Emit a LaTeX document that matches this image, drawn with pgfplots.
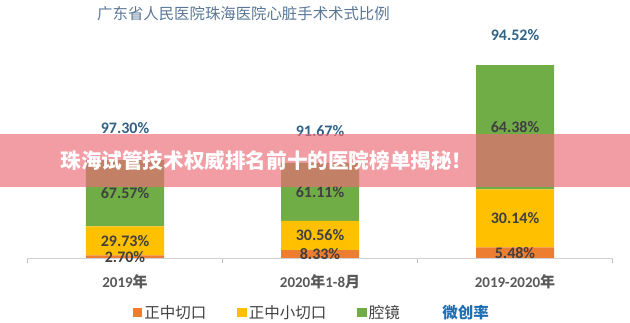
\documentclass[border=0pt]{standalone}
\usepackage{pgfplots}
\pgfplotsset{compat=1.18}
\usepackage{fontspec}
\setmainfont{Carlito}
\newfontfamily\cjk{Noto Sans CJK SC}
\definecolor{cOrange}{HTML}{ED7D31}
\definecolor{cYellow}{HTML}{FFC000}
\definecolor{cGreen}{HTML}{70AD47}
\definecolor{cTitle}{HTML}{5A7896}
\definecolor{cBlue}{HTML}{2F6286}
\definecolor{cLeg}{HTML}{1F6EB3}
\definecolor{cLab}{HTML}{404040}
\definecolor{cCat}{HTML}{595959}
\definecolor{cBanner}{HTML}{EB6B78}
\begin{document}
\begin{tikzpicture}[x=1pt,y=1pt]
\path[use as bounding box] (0,0) rectangle (630,323);
\node[font=\cjk\fontsize{15.4}{17}\selectfont, text=cTitle] at (243.5,309) {广东省人民医院珠海医院心脏手术术式比例};
\begin{axis}[
  at={(27.5pt,65pt)}, anchor=south west, scale only axis,
  width=585pt, height=211.5pt,
  xmin=-0.5, xmax=2.5, ymin=0, ymax=80,
  ybar stacked, bar width=78pt,
  axis y line=none, axis x line*=bottom,
  x axis line style={draw=black!18, line width=0.8pt},
  xtick={0,1,2},
  xticklabels={2019{\cjk 年},2020{\cjk 年}1-8{\cjk 月},2019-2020{\cjk 年}},
  major x tick style={draw=none},
  minor xtick={-0.5,0.5,1.5,2.5},
  minor tick length=5pt, tick align=outside,
  minor x tick style={draw=black!25, line width=0.6pt},
  xticklabel style={anchor=center, yshift=-20pt, font=\bfseries\fontsize{15}{15}\selectfont, text=cCat},
  clip=false,
  legend columns=4,
  legend style={at={(0.486,-0.26)}, anchor=center, draw=none, fill=none,
    font=\cjk\fontsize{15.5}{15.5}\selectfont, text=cLab,
    /tikz/every even column/.append style={column sep=29pt}},
]
\addplot[fill=cOrange, draw=none, legend image code/.code={\fill[cOrange] (0pt,-4.5pt) rectangle (9.5pt,4.5pt);}] coordinates {(0,1) (1,3) (2,4)};
\addlegendentry{正中切口}
\addplot[fill=cYellow, draw=none, legend image code/.code={\fill[cYellow] (0pt,-4.5pt) rectangle (9.5pt,4.5pt);}] coordinates {(0,11) (1,11) (2,22)};
\addlegendentry{正中小切口}
\addplot[fill=cGreen, draw=none, legend image code/.code={\fill[cGreen] (0pt,-4.5pt) rectangle (9.5pt,4.5pt);}] coordinates {(0,25) (1,22) (2,47)};
\addlegendentry{腔镜}
\addlegendimage{legend image code/.code={\path[draw=none,fill=none] (0pt,-4.5pt) rectangle (9.5pt,4.5pt);}}
\addlegendentry{\textcolor{cLeg}{\bfseries 微创率}}
\end{axis}
\begin{axis}[
  at={(27.5pt,65pt)}, anchor=south west, scale only axis,
  width=585pt, height=211.5pt,
  xmin=-0.5, xmax=2.5, ymin=0, ymax=80,
  hide axis, clip=false,
  nodes near coords, point meta=explicit symbolic,
  nodes near coords align=center,
]
\addplot[draw=none, mark=none, every node near coord/.append style={anchor=center, font=\bfseries\fontsize{16}{16}\selectfont, text=cLab}]
  coordinates {(0,0.5)[2.70\%] (1,1.5)[8.33\%] (2,2)[5.48\%]};
\addplot[draw=none, mark=none, every node near coord/.append style={anchor=center, font=\bfseries\fontsize{16}{16}\selectfont, text=cLab}]
  coordinates {(0,6.5)[29.73\%] (1,8.5)[30.56\%] (2,15)[30.14\%]};
\addplot[draw=none, mark=none, every node near coord/.append style={anchor=center, font=\bfseries\fontsize{16}{16}\selectfont, text=cLab}]
  coordinates {(0,24.5)[67.57\%] (1,25)[61.11\%] (2,49.5)[64.38\%]};
\addplot[draw=none, mark=none, every node near coord/.append style={anchor=center, font=\bfseries\fontsize{16}{16}\selectfont, text=cBlue}]
  coordinates {(0,49.2)[97.30\%] (1,48)[91.67\%] (2,84.3)[94.52\%]};
\end{axis}
\fill[cBanner, fill opacity=0.67] (0,136) rectangle (630,189);
\node[font=\cjk\bfseries\fontsize{20.6}{22}\selectfont, text=white] at (266.5,162.5) {珠海试管技术权威排名前十的医院榜单揭秘！};
\end{tikzpicture}
\end{document}
